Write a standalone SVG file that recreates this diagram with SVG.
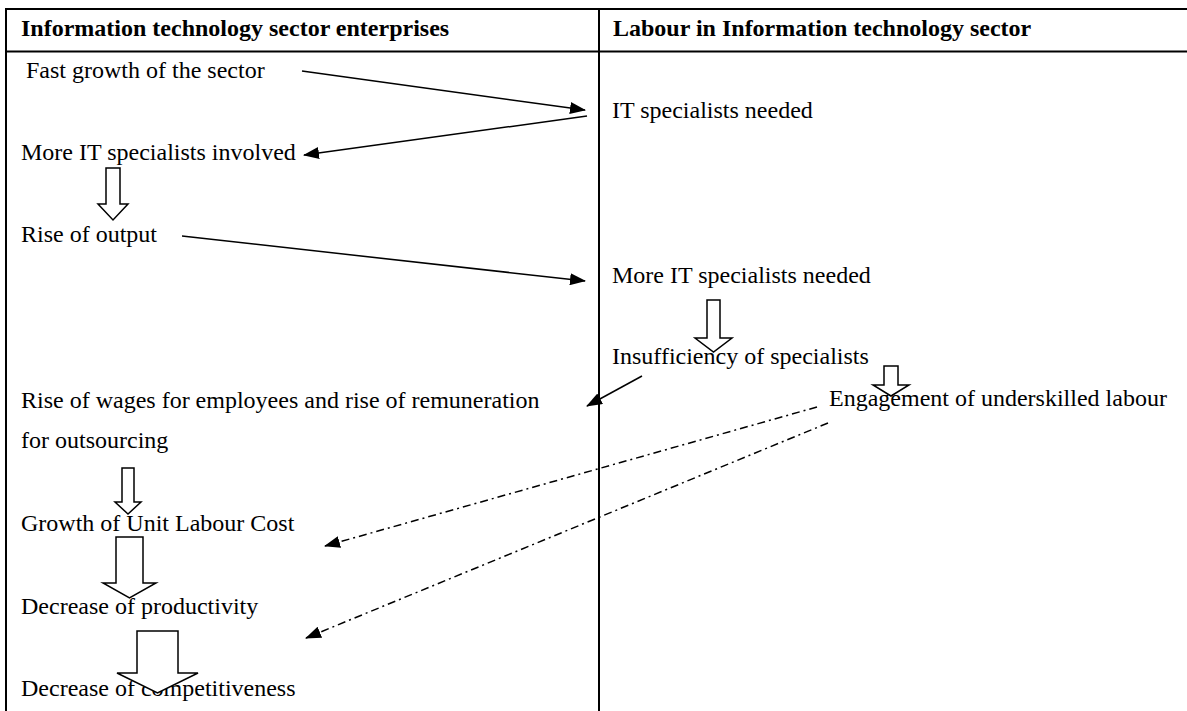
<svg xmlns="http://www.w3.org/2000/svg" width="1187" height="711" viewBox="0 0 1187 711">
<style>
.t{font-family:"Liberation Serif","Times New Roman",serif;font-size:24px;fill:#000}
.h{font-family:"Liberation Serif","Times New Roman",serif;font-size:24px;font-weight:bold;fill:#000}
.grid{stroke:#000;stroke-width:2;fill:none}
.ln{stroke:#000;stroke-width:1.5;fill:none}
.dd{stroke:#000;stroke-width:1.5;fill:none;stroke-dasharray:8 4 2 4}
.blk{fill:#fff;stroke:#000;stroke-width:1.5;stroke-linejoin:miter}
.head{fill:#000;stroke:none}
</style>
<defs>
<marker id="ah" markerUnits="userSpaceOnUse" markerWidth="16" markerHeight="12" refX="15" refY="6" orient="auto"><path class="head" d="M0,0 L16,6 L0,12 z"/></marker>
</defs>
<rect width="1187" height="711" fill="#fff"/>
<g id="table">
<line class="grid" x1="6" y1="9" x2="1187" y2="9"/>
<line class="grid" x1="6" y1="51.5" x2="1187" y2="51.5"/>
<line class="grid" x1="6" y1="8" x2="6" y2="711"/>
<line class="grid" x1="599" y1="9" x2="599" y2="711"/>
<text class="h" x="21" y="36">Information technology sector enterprises</text>
<text class="h" x="613" y="36">Labour in Information technology sector</text>
</g>
<g id="n1"><text class="t" x="26" y="78">Fast growth of the sector</text></g>
<g id="n2"><text class="t" x="612" y="118">IT specialists needed</text></g>
<g id="n3"><text class="t" x="21" y="160">More IT specialists involved</text></g>
<g id="n4"><text class="t" x="21" y="242">Rise of output</text></g>
<g id="n5"><text class="t" x="612" y="283">More IT specialists needed</text></g>
<g id="n6"><text class="t" x="612" y="364">Insufficiency of specialists</text></g>
<g id="n7"><text class="t" x="829" y="406">Engagement of underskilled labour</text></g>
<g id="n8"><text class="t" x="21" y="408">Rise of wages for employees and rise of remuneration</text><text class="t" x="21" y="448">for outsourcing</text></g>
<g id="n9"><text class="t" x="21" y="531">Growth of Unit Labour Cost</text></g>
<g id="n10"><text class="t" x="21" y="614">Decrease of productivity</text></g>
<g id="n11"><text class="t" x="21" y="696">Decrease of competitiveness</text></g>
<g id="connectors">
<line class="ln" x1="302" y1="71" x2="585" y2="110" marker-end="url(#ah)"/>
<line class="ln" x1="587" y1="116" x2="304" y2="155" marker-end="url(#ah)"/>
<line class="ln" x1="182" y1="236" x2="585" y2="281" marker-end="url(#ah)"/>
<line class="ln" x1="642" y1="376" x2="587" y2="406" marker-end="url(#ah)"/>
<line class="dd" x1="817" y1="407" x2="325" y2="546" marker-end="url(#ah)"/>
<line class="dd" x1="828" y1="423" x2="306" y2="638" marker-end="url(#ah)"/>
<polygon class="blk" points="106,168 120,168 120,204 128,204 113,220 98,204 106,204"/>
<polygon class="blk" points="707,300 720,300 720,338 732,338 713.5,352 695,338 707,338"/>
<polygon class="blk" points="884,366 898,366 898,385 909,385 891,396 873,385 884,385"/>
<polygon class="blk" points="122,468 134,468 134,502 141,502 128,514 115,502 122,502"/>
<polygon class="blk" points="116,537 143,537 143,583 156,583 129.5,598 103,583 116,583"/>
<polygon class="blk" points="137,631 178,631 178,673 198,673 157.5,693 117,673 137,673"/>
</g>
</svg>
